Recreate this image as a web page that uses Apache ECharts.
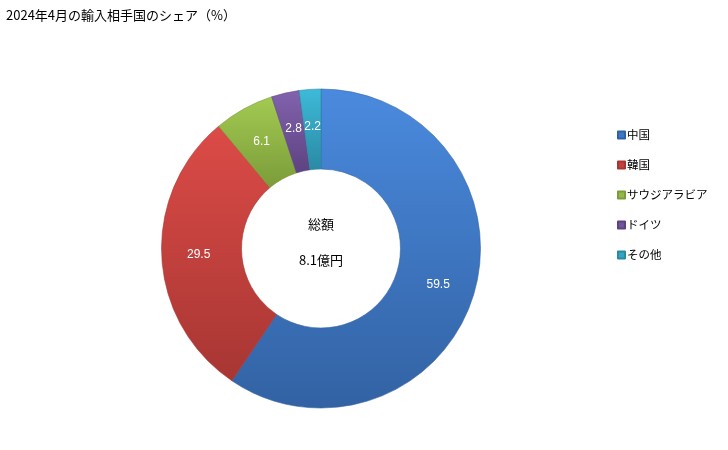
<!DOCTYPE html>
<html>
<head>
<meta charset="utf-8">
<script src="https://cdn.jsdelivr.net/npm/echarts@6/dist/echarts.min.js"></script>
<style>
html,body{margin:0;padding:0;background:#fff;}
#c{width:728px;height:450px;}
</style>
</head>
<body>
<div id="c"></div>
<script>
const categories = ['中国', '韓国', 'サウジアラビア', 'ドイツ', 'その他'];
const shares = [59.5, 29.5, 6.1, 2.8, 2.2];
const titleText = '2024年4月の輸入相手国のシェア（%）';
const centerLabel = '総額';
const totalLabel = '8.1億円';

const topColors = ['#4a8ade', '#dc4b47', '#a3ca52', '#8262ae', '#3dbad8'];
const bottomColors = ['#3262a3', '#a73633', '#7b9c39', '#5d4381', '#2a8aa4'];
const legendColors = ['#3f78c4', '#c2403d', '#95b84a', '#71559a', '#36a5c2'];

const font = '"Noto Sans CJK JP", "Liberation Sans", sans-serif';

const chart = echarts.init(document.getElementById('c'), null, {renderer: 'canvas'});
const data = categories.map((name, i) => ({
  name: name,
  value: shares[i],
  itemStyle: {
    color: new echarts.graphic.LinearGradient(0, 0, 0, 1, [
      {offset: 0, color: topColors[i]},
      {offset: 1, color: bottomColors[i]}
    ]),
    borderColor: bottomColors[i],
    borderWidth: 0.6
  }
}));

chart.setOption({
  animation: false,
  backgroundColor: '#ffffff',
  title: {
    text: titleText,
    left: 1,
    top: 4,
    textStyle: {fontSize: 13, fontWeight: 'normal', color: '#000', fontFamily: font}
  },
  legend: {
    orient: 'vertical',
    left: 612,
    top: 123,
    itemWidth: 7,
    itemHeight: 7,
    itemGap: 16,
    icon: 'rect',
    data: categories.map((c, i) => ({name: c, itemStyle: {color: legendColors[i]}})),
    textStyle: {fontSize: 11.5, color: '#000', fontFamily: font, lineHeight: 14, padding: [0, 0, 0, -3]}
  },
  series: [{
    type: 'pie',
    center: [321, 248.5],
    radius: [79.5, 159.5],
    startAngle: 90,
    clockwise: true,
    avoidLabelOverlap: false,
    label: {
      show: true,
      position: 'inside',
      formatter: p => p.value.toFixed(1),
      color: '#fff',
      fontSize: 12,
      fontFamily: '"Liberation Sans", Arial, sans-serif'
    },
    labelLine: {show: false},
    emphasis: {disabled: true},
    data: data
  }],
  graphic: [
    {type: 'text', x: 321, y: 224, silent: true,
     style: {text: centerLabel, fontSize: 13, fill: '#000', fontFamily: font, align: 'center', verticalAlign: 'middle'}},
    {type: 'text', x: 321, y: 260, silent: true,
     style: {text: totalLabel, fontSize: 13, fill: '#000', fontFamily: font, align: 'center', verticalAlign: 'middle'}}
  ]
});
</script>
</body>
</html>
